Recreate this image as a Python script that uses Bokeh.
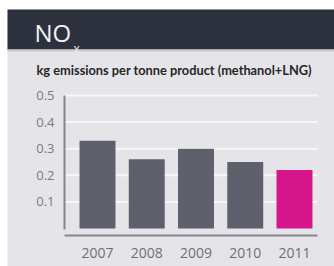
from bokeh.plotting import figure
from bokeh.models import Range1d, FixedTicker
from bokeh.core.properties import value
from bokeh.embed import file_html
from bokeh.resources import INLINE

years = ["2007", "2008", "2009", "2010", "2011"]
nox = [0.33, 0.26, 0.30, 0.25, 0.22]
bar_colors = ["#5e616b", "#5e616b", "#5e616b", "#5e616b", "#d6168b"]
y_ticks = [0.1, 0.2, 0.3, 0.4, 0.5]
title_main = "NO"
title_sub = "x"
subtitle = "kg emissions per tonne product (methanol+LNG)"

CARD = "#e5e5e9"
DARK = "#2d313d"
FONT = "Open Sans"
W, H = 334, 266

# layout geometry (canvas pixels): bar pitch, first bar centre, zero line, px per unit
PITCH, CX0, ZERO_Y, PPU = 49.25, 97.0, 228.0, 266.0


def dx(px):
    return (px - CX0) / PITCH


def dy(py):
    return (ZERO_Y - py) / PPU


xs = list(range(len(years)))
x_start, x_end = dx(0), dx(W)
y_start, y_end = dy(H), dy(0)
x_axis_pos = dx(64)      # y-axis location
x_right = dx(317)        # right end of grid / baseline
base_y = dy(ZERO_Y + 7)  # x-axis baseline location

p = figure(width=W, height=H, output_backend="svg", toolbar_location=None,
           x_range=Range1d(x_start, x_end), y_range=Range1d(y_start, y_end),
           min_border=0, border_fill_color="white", background_fill_color="white",
           outline_line_color=None)
p.xgrid.visible = False
p.ygrid.visible = False

# card, header band + separator
p.quad(left=dx(7), right=x_end, top=dy(9), bottom=y_start,
       fill_color=CARD, line_color=None)
p.quad(left=dx(7), right=x_end, top=dy(9), bottom=dy(49),
       fill_color=DARK, line_color=None)
p.quad(left=dx(7), right=x_end, top=dy(49), bottom=dy(51),
       fill_color="#c9c9ce", line_color=None)
p.text(x=[dx(34)], y=[dy(32)], text=[title_main], text_color="#f2f2f4",
       text_font=value(FONT), text_font_size="24px", text_baseline="alphabetic",
       text_align="left")
p.text(x=[dx(73)], y=[dy(48)], text=[title_sub], text_color="#e8e8ec",
       text_font=value(FONT), text_font_size="12px", text_baseline="alphabetic",
       text_align="left")
p.text(x=[dx(36)], y=[dy(69)], text=[subtitle], text_color="#262626",
       text_font=value("Lato"), text_font_size="12.8px", text_font_style="bold",
       text_baseline="middle", text_align="left")

# horizontal grid lines
p.segment(x0=[x_axis_pos] * len(y_ticks), x1=[x_right] * len(y_ticks),
          y0=y_ticks, y1=y_ticks, line_color="#f7f7f9", line_width=2)

p.vbar(x=xs, top=nox, width=0.73, bottom=0, fill_color=bar_colors, line_color=None)

# axis lines
p.segment(x0=[x_axis_pos], y0=[-0.004], x1=[x_axis_pos], y1=[y_ticks[-1]],
          line_color="#85868d", line_width=2)
p.segment(x0=[x_axis_pos], y0=[base_y], x1=[x_right], y1=[base_y],
          line_color="#85868d", line_width=2)

p.yaxis.fixed_location = x_axis_pos
p.yaxis.ticker = FixedTicker(ticks=y_ticks)
p.yaxis.axis_line_color = None
p.yaxis.major_tick_line_color = None
p.yaxis.minor_tick_line_color = None
p.yaxis.major_label_standoff = 4
p.yaxis.major_label_text_font = FONT
p.yaxis.major_label_text_font_size = "13px"
p.yaxis.major_label_text_color = "#7b7c82"

p.xaxis.fixed_location = base_y
p.xaxis.ticker = FixedTicker(ticks=xs)
p.xaxis.major_label_overrides = {i: y for i, y in enumerate(years)}
p.xaxis.axis_line_color = None
p.xaxis.major_tick_line_color = None
p.xaxis.minor_tick_line_color = None
p.xaxis.major_label_standoff = 6
p.xaxis.major_label_text_font = FONT
p.xaxis.major_label_text_font_size = "14px"
p.xaxis.major_label_text_color = "#6e6f75"

open("out.html", "w").write(file_html(p, INLINE))
